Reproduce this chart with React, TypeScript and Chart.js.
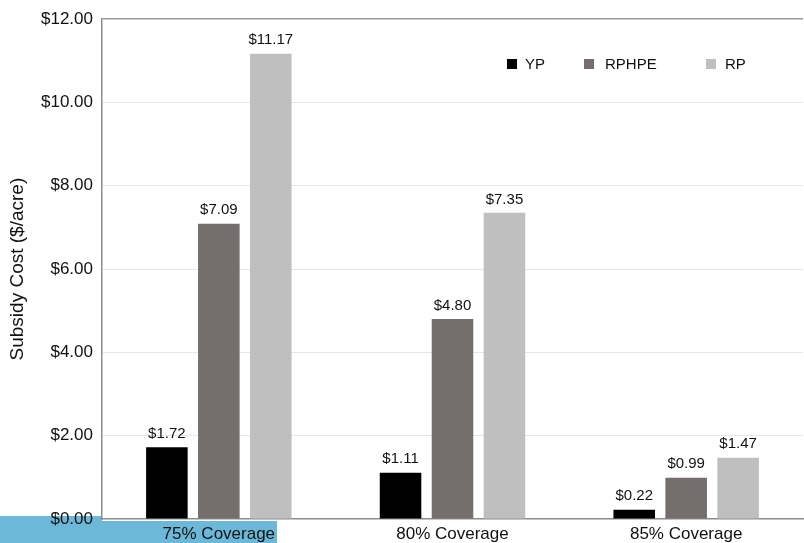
import React, { useEffect, useRef } from "react";
import { Chart, registerables } from "chart.js";

Chart.register(...registerables);

const categories = ["75% Coverage", "80% Coverage", "85% Coverage"];
const seriesNames = ["YP", "RPHPE", "RP"];
const ypValues = [1.72, 1.11, 0.22];
const rphpeValues = [7.09, 4.8, 0.99];
const rpValues = [11.17, 7.35, 1.47];
const seriesColors = ["#000000", "#746e6d", "#bfbfbf"];
const yTicks = [0, 2, 4, 6, 8, 10, 12];

const FONT = "'Liberation Sans', Arial, Helvetica, sans-serif";

const plotBgPlugin = {
  id: "plotBg",
  beforeDraw(chart: any) {
    const { ctx, chartArea } = chart;
    ctx.save();
    ctx.fillStyle = "#ffffff";
    ctx.fillRect(chartArea.left, chartArea.top, chartArea.right - chartArea.left, chartArea.bottom - chartArea.top + 2);
    ctx.restore();
  },
};

const valueLabelPlugin = {
  id: "valueLabels",
  afterDatasetsDraw(chart: any) {
    const { ctx } = chart;
    ctx.save();
    ctx.font = `15px ${FONT}`;
    ctx.fillStyle = "#111111";
    ctx.textAlign = "center";
    ctx.textBaseline = "bottom";
    chart.data.datasets.forEach((ds: any, i: number) => {
      const meta = chart.getDatasetMeta(i);
      meta.data.forEach((bar: any, j: number) => {
        ctx.fillText("$" + Number(ds.data[j]).toFixed(2), bar.x, bar.y - 6);
      });
    });
    ctx.restore();
  },
};

const legendPlugin = {
  id: "insideLegend",
  afterDraw(chart: any) {
    const { ctx } = chart;
    const items = [
      { box: 507, text: 525 },
      { box: 584, text: 605 },
      { box: 706, text: 725 },
    ];
    ctx.save();
    ctx.font = `15px ${FONT}`;
    ctx.textBaseline = "middle";
    ctx.textAlign = "left";
    chart.data.datasets.forEach((ds: any, i: number) => {
      const it = items[i];
      ctx.fillStyle = ds.backgroundColor;
      ctx.fillRect(it.box, 59, 10, 10);
      ctx.fillStyle = "#111111";
      ctx.fillText(ds.label, it.text, 65);
    });
    ctx.restore();
  },
};

export default function App() {
  const ref = useRef<HTMLCanvasElement | null>(null);

  useEffect(() => {
    if (!ref.current) return;
    const chart = new Chart(ref.current, {
      type: "bar",
      data: {
        labels: categories,
        datasets: [
          { label: seriesNames[0], data: ypValues, backgroundColor: seriesColors[0] },
          { label: seriesNames[1], data: rphpeValues, backgroundColor: seriesColors[1] },
          { label: seriesNames[2], data: rpValues, backgroundColor: seriesColors[2] },
        ],
      },
      options: {
        animation: false,
        responsive: false,
        maintainAspectRatio: false,
        layout: { padding: { top: 17, right: 1, left: 0, bottom: 0 } },
        datasets: {
          bar: { categoryPercentage: 0.667, barPercentage: 0.8 },
        },
        plugins: {
          legend: { display: false },
          tooltip: { enabled: false },
        },
        scales: {
          x: {
            grid: { display: false, drawTicks: false },
            border: { display: true, color: "#8c8c8c", width: 1.5 },
            ticks: { color: "#111111", font: { family: FONT, size: 17 }, padding: 5 },
            afterFit(s: any) {
              s.height = 24;
            },
          },
          y: {
            min: 0,
            max: 12,
            afterBuildTicks(s: any) {
              s.ticks = yTicks.map((v) => ({ value: v }));
            },
            grid: {
              drawTicks: false,
              color: (c: any) => (c.tick && c.tick.value === 12 ? "#9a9a9a" : c.tick && c.tick.value === 0 ? "rgba(0,0,0,0)" : "#e6e6e6"),
              lineWidth: (c: any) => (c.tick && c.tick.value === 12 ? 1.5 : 1),
            },
            border: { display: true, color: "#8c8c8c", width: 1.5 },
            ticks: {
              color: "#111111",
              font: { family: FONT, size: 17 },
              padding: 9,
              callback: (v: any) => "$" + Number(v).toFixed(2),
            },
            title: {
              display: true,
              text: "Subsidy Cost ($/acre)",
              color: "#111111",
              font: { family: FONT, size: 19 },
              padding: { top: 6, bottom: 0 },
            },
            afterFit(s: any) {
              s.width = 102;
            },
          },
        },
      },
      plugins: [plotBgPlugin, valueLabelPlugin, legendPlugin],
    });
    return () => chart.destroy();
  }, []);

  return (
    <div style={{ position: "fixed", left: 0, top: 0, width: 804, height: 543, background: "#ffffff" }}>
      <div style={{ position: "absolute", left: 0, top: 516, width: 277, height: 27, background: "#6cb8d8" }} />
      <canvas ref={ref} width={804} height={543} style={{ position: "absolute", left: 0, top: 0, width: 804, height: 543 }} />
    </div>
  );
}
